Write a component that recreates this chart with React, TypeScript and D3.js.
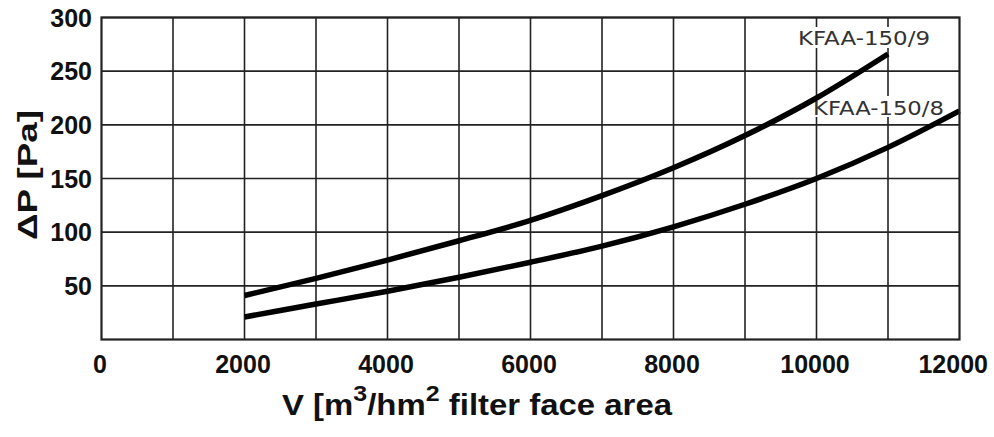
import React from "react";
import * as d3 from "d3";

const xTicks = [0, 2000, 4000, 6000, 8000, 10000, 12000];
const yTicks = [50, 100, 150, 200, 250, 300];
const flow9 = [2000, 3000, 4000, 5000, 6000, 7000, 8000, 9000, 10000, 11000];
const dp9 = [41, 57, 74, 92, 111, 134, 160, 190, 225, 266];
const flow8 = [2000, 3000, 4000, 5000, 6000, 7000, 8000, 9000, 10000, 11000, 12000];
const dp8 = [21, 33, 45, 58, 72, 87, 105, 126, 150, 179, 213];
const seriesNames = ["KFAA-150/9", "KFAA-150/8"];

export default function App() {
  const W = 994, H = 437;
  const left = 101.5, right = 959.5, top = 17.5, bottom = 339.5;
  const x = d3.scaleLinear().domain([0, 12000]).range([left, right]);
  const y = d3.scaleLinear().domain([0, 300]).range([bottom, top]);
  const grid = d3.range(1000, 12000, 1000);
  const line = d3
    .line<[number, number]>()
    .x((d) => x(d[0]))
    .y((d) => y(d[1]))
    .curve(d3.curveMonotoneX);
  const s9 = flow9.map((f, i) => [f, dp9[i]] as [number, number]);
  const s8 = flow8.map((f, i) => [f, dp8[i]] as [number, number]);
  const font = "Liberation Sans, Arial, sans-serif";
  const labelFont = "DejaVu Sans, sans-serif";
  return (
    <svg width={W} height={H} style={{ position: "absolute", left: 0, top: 0, background: "#fff" }}>
      <rect x={0} y={0} width={W} height={H} fill="#fff" />
      {grid.map((g) => (
        <line key={"vx" + g} x1={x(g)} x2={x(g)} y1={top} y2={bottom} stroke="#222" strokeWidth={1.6} />
      ))}
      {yTicks.map((t) => (
        <line key={"hy" + t} x1={left} x2={right} y1={y(t)} y2={y(t)} stroke="#222" strokeWidth={1.6} />
      ))}
      <rect x={798} y={27} width={133} height={21} fill="#fff" />
      <text x={798} y={45} fontFamily={labelFont} fontSize={19.5} fill="#333" textLength={132} lengthAdjust="spacingAndGlyphs">
        {seriesNames[0]}
      </text>
      <rect x={812} y={96} width={133} height={21} fill="#fff" />
      <text x={813} y={115} fontFamily={labelFont} fontSize={19.5} fill="#333" textLength={131} lengthAdjust="spacingAndGlyphs">
        {seriesNames[1]}
      </text>
      <path d={line(s9) || ""} fill="none" stroke="#000" strokeWidth={5.5} />
      <path d={line(s8) || ""} fill="none" stroke="#000" strokeWidth={5.5} />
      <rect x={left} y={top} width={right - left} height={bottom - top} fill="none" stroke="#222" strokeWidth={2.2} />
      {yTicks.map((t) => (
        <text key={"yl" + t} x={92} y={y(t) + 9} textAnchor="end" fontFamily={font} fontWeight="bold" fontSize={25} fill="#111">
          {t}
        </text>
      ))}
      {xTicks.map((t) => (
        <text
          key={"xl" + t}
          x={t === 12000 ? 988 : x(t) - 1.5}
          y={373}
          textAnchor={t === 12000 ? "end" : "middle"}
          fontFamily={font}
          fontWeight="bold"
          fontSize={25}
          fill="#111"
        >
          {t}
        </text>
      ))}
      <text
        transform={`translate(37,175) rotate(-90)`}
        textAnchor="middle"
        fontFamily={font}
        fontWeight="bold"
        fontSize={28}
        fill="#111"
        textLength={130}
        lengthAdjust="spacingAndGlyphs"
      >
        ΔP [Pa]
      </text>
      <text x={282} y={415} fontFamily={font} fontWeight="bold" fontSize={29} fill="#111" textLength={390} lengthAdjust="spacingAndGlyphs">
        V [m
        <tspan fontSize={22} dy={-14}>3</tspan>
        <tspan dy={14}>/hm</tspan>
        <tspan fontSize={22} dy={-14}>2</tspan>
        <tspan dy={14}> filter face area</tspan>
      </text>
    </svg>
  );
}
